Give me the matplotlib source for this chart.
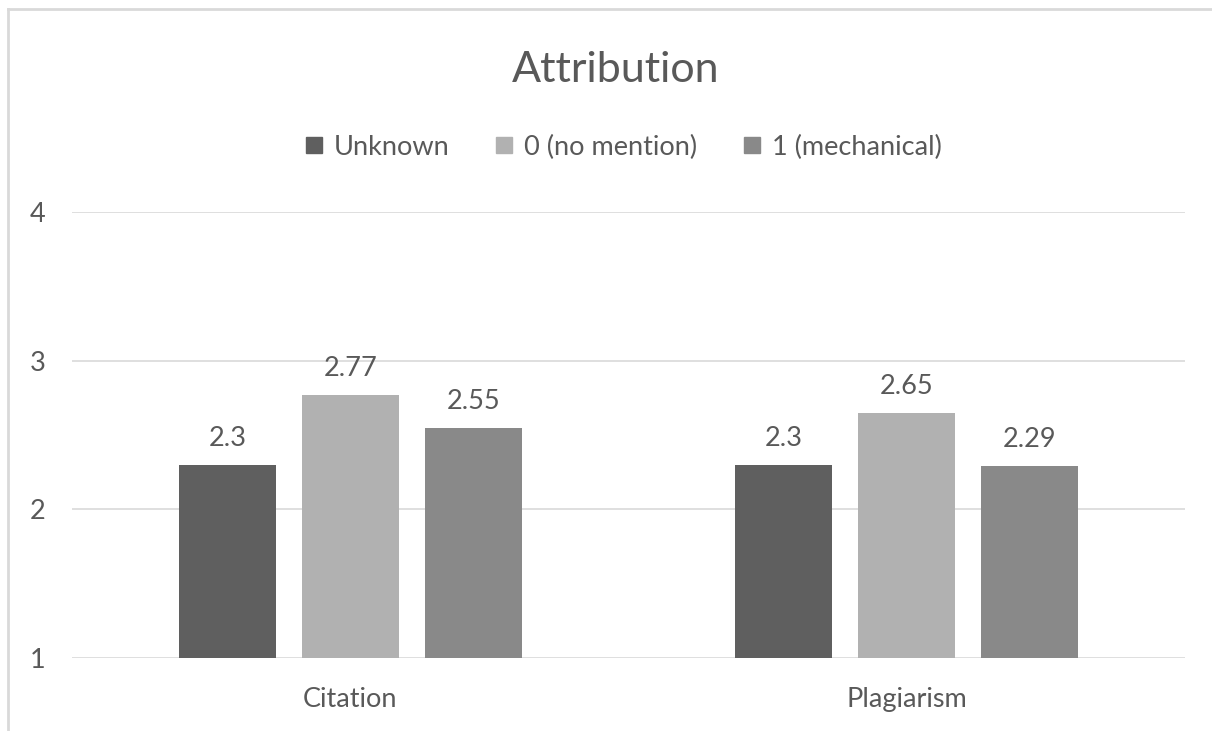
import matplotlib
matplotlib.use("Agg")
import matplotlib.pyplot as plt
import numpy as np
from matplotlib.lines import Line2D

categories = ["Citation", "Plagiarism"]
series_names = ["Unknown", "0 (no mention)", "1 (mechanical)"]
unknown = [2.3, 2.3]
no_mention = [2.77, 2.65]
mechanical = [2.55, 2.29]
y_ticks = [1, 2, 3, 4]
title = "Attribution"

colors = ["#5f5f5f", "#b1b1b1", "#898989"]
text_color = "#595959"
grid_color = "#d9d9d9"

plt.rcParams['font.family'] = ['Lato', 'DejaVu Sans']

fig = plt.figure(figsize=(12.12, 7.31), dpi=100)
ax = fig.add_axes([72/1212, 1-658/731, (1185-72)/1212, (658-212)/731])

x = np.arange(len(categories))
width = 0.174
step = 0.221
series = [unknown, no_mention, mechanical]
for i, (vals, name, c) in enumerate(zip(series, series_names, colors)):
    ax.bar(x + (i-1)*step, np.array(vals) - 1, bottom=1, width=width, color=c, label=name, zorder=3)
    for xi, v in zip(x + (i-1)*step, vals):
        ax.annotate(f"{v:g}", (xi, v), xytext=(0, 10), textcoords="offset points",
                    ha="center", va="bottom", fontsize=19.5, color=text_color)

ax.set_xlim(-0.5, 1.5)
ax.set_ylim(1, 4)
ax.set_yticks(y_ticks)
ax.set_yticklabels([str(t) for t in y_ticks])
ax.set_xticks(x)
ax.set_xticklabels(categories)
ax.tick_params(axis='both', length=0, labelsize=19.5, labelcolor=text_color)
ax.tick_params(axis='y', pad=19)
ax.tick_params(axis='x', pad=21)
ax.yaxis.grid(True, color=grid_color, linewidth=1.2, zorder=0)
for s in ax.spines.values():
    s.set_visible(False)

fig.text(616/1212, 1-70/731, title, ha="center", va="center", fontsize=31, color=text_color)

handles = [Line2D([0], [0], marker='s', linestyle='none', markersize=12, markerfacecolor=c, markeredgecolor=c) for c in colors]
fig.legend(handles, series_names, loc="center", bbox_to_anchor=(621/1212, 1-147/731), ncol=3,
           frameon=False, fontsize=19.5, labelcolor=text_color, handletextpad=0.25, columnspacing=1.5,
           handlelength=1.0)

# outer border (top and left visible)
fig.add_artist(Line2D([8/1212, 8/1212], [0, 1-9/731], color=grid_color, linewidth=2, transform=fig.transFigure))
fig.add_artist(Line2D([8/1212, 1], [1-9/731, 1-9/731], color=grid_color, linewidth=2, transform=fig.transFigure))

fig.savefig("out.png", dpi=100)
